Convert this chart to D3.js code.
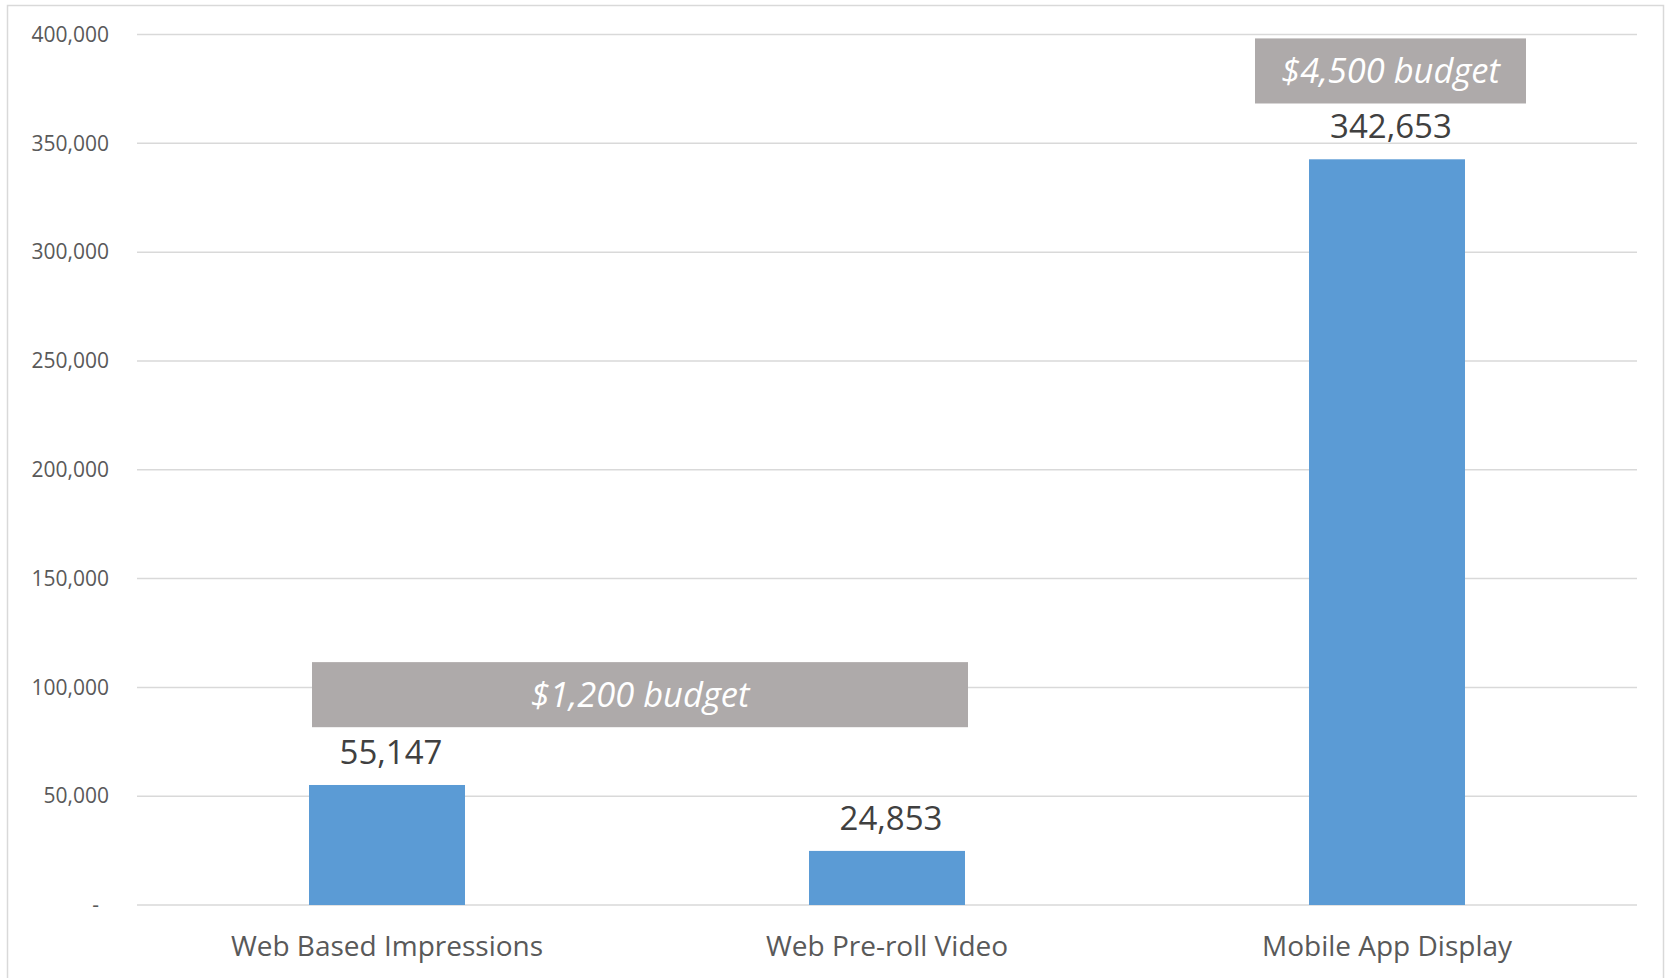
<!DOCTYPE html>
<html>
<head>
<meta charset="utf-8">
<script src="https://d3js.org/d3.v7.min.js"></script>
<style>
    body { margin: 0; background: #fff; }
    text { font-family: "Open Sans", sans-serif; }
</style>
</head>
<body>
<div id="bar_chart"></div>
<script>
// chart data
var categories = ["Web Based Impressions", "Web Pre-roll Video", "Mobile App Display"];
var impressions = [55147, 24853, 342653];
var yTicks = [0, 50000, 100000, 150000, 200000, 250000, 300000, 350000, 400000];

// budget call-outs: text, first and last category covered, top/bottom in axis units
var budgetLabels = ["$1,200 budget", "$4,500 budget"];
var budgetFrom = [0, 2];
var budgetTo = [1, 2];
var budgetTop = [111600, 398200];
var budgetBottom = [81700, 368300];

function barChart() {
    // set the dimensions and margins of the graph
    var margin = {top: 34.5, right: 32, bottom: 73, left: 137},
        width = 1669 - margin.left - margin.right,
        height = 978 - margin.top - margin.bottom;

    var svg = d3.select("#bar_chart").append("svg")
        .attr("width", 1669)
        .attr("height", 978);

    // outer frame
    svg.append("rect")
        .attr("x", 7.5)
        .attr("y", 5.5)
        .attr("width", 1656)
        .attr("height", 990)
        .attr("fill", "none")
        .attr("stroke", "#d9d9d9")
        .attr("stroke-width", 1.5);

    var g = svg.append("g")
        .attr("transform", "translate(" + margin.left + "," + margin.top + ")");

    // set the ranges
    var x = d3.scaleBand()
        .domain(categories)
        .range([0, width])
        .paddingInner(0.688)
        .paddingOuter(0.344);
    var y = d3.scaleLinear()
        .domain([0, 400000])
        .range([height, 0]);

    // gridlines
    g.append("g")
        .selectAll("line")
        .data(yTicks)
        .enter().append("line")
        .attr("x1", 0)
        .attr("x2", width)
        .attr("y1", function(d) { return y(d); })
        .attr("y2", function(d) { return y(d); })
        .attr("stroke", "#d9d9d9")
        .attr("stroke-width", 1.5);

    // Y axis labels
    var yAxis = g.append("g")
        .attr("transform", "translate(-25,0)")
        .call(d3.axisLeft(y)
            .tickValues(yTicks)
            .tickSize(0)
            .tickFormat(function(d) { return d === 0 ? "-" : d3.format(",")(d); }));
    yAxis.select(".domain").remove();
    yAxis.selectAll("text")
        .attr("fill", "#595959")
        .style("font-family", "'Open Sans', sans-serif")
        .style("font-size", "21px");
    yAxis.selectAll(".tick")
        .filter(function(d) { return d === 0; })
        .select("text")
        .attr("dx", -10);

    // X axis labels
    var xAxis = g.append("g")
        .attr("transform", "translate(0," + height + ")")
        .call(d3.axisBottom(x).tickSize(0).tickPadding(31));
    xAxis.select(".domain").remove();
    xAxis.selectAll("text")
        .attr("fill", "#595959")
        .style("font-family", "'Open Sans', sans-serif")
        .style("font-size", "28px");

    // bars
    g.selectAll(".bar")
        .data(impressions)
        .enter().append("rect")
        .attr("class", "bar")
        .attr("x", function(d, i) { return x(categories[i]); })
        .attr("y", function(d) { return y(d); })
        .attr("width", x.bandwidth())
        .attr("height", function(d) { return height - y(d); })
        .attr("fill", "#5b9bd5");

    // value labels
    g.selectAll(".value")
        .data(impressions)
        .enter().append("text")
        .attr("class", "value")
        .attr("x", function(d, i) { return x(categories[i]) + x.bandwidth() / 2 + 4; })
        .attr("y", function(d) { return y(d) - 21; })
        .attr("text-anchor", "middle")
        .attr("fill", "#404040")
        .style("font-size", "33px")
        .text(function(d) { return d3.format(",")(d); });

    // budget boxes
    var boxes = g.selectAll(".budget")
        .data(budgetLabels)
        .enter().append("g")
        .attr("class", "budget");

    boxes.append("rect")
        .attr("x", function(d, i) { return x(categories[budgetFrom[i]]) + (i === 0 ? 3 : -54); })
        .attr("y", function(d, i) { return y(budgetTop[i]); })
        .attr("width", function(d, i) {
            var left = x(categories[budgetFrom[i]]) + (i === 0 ? 3 : -54);
            var right = x(categories[budgetTo[i]]) + x.bandwidth() + (i === 0 ? 3 : 61);
            return right - left;
        })
        .attr("height", function(d, i) { return y(budgetBottom[i]) - y(budgetTop[i]); })
        .attr("fill", "#aeaaaa");

    boxes.append("text")
        .attr("x", function(d, i) {
            var left = x(categories[budgetFrom[i]]) + (i === 0 ? 3 : -54);
            var right = x(categories[budgetTo[i]]) + x.bandwidth() + (i === 0 ? 3 : 61);
            return (left + right) / 2;
        })
        .attr("y", function(d, i) { return (y(budgetTop[i]) + y(budgetBottom[i])) / 2 + 12; })
        .attr("text-anchor", "middle")
        .attr("fill", "#ffffff")
        .style("font-style", "italic")
        .style("font-size", "34.5px")
        .text(function(d) { return d; });
}

barChart();
</script>
</body>
</html>
